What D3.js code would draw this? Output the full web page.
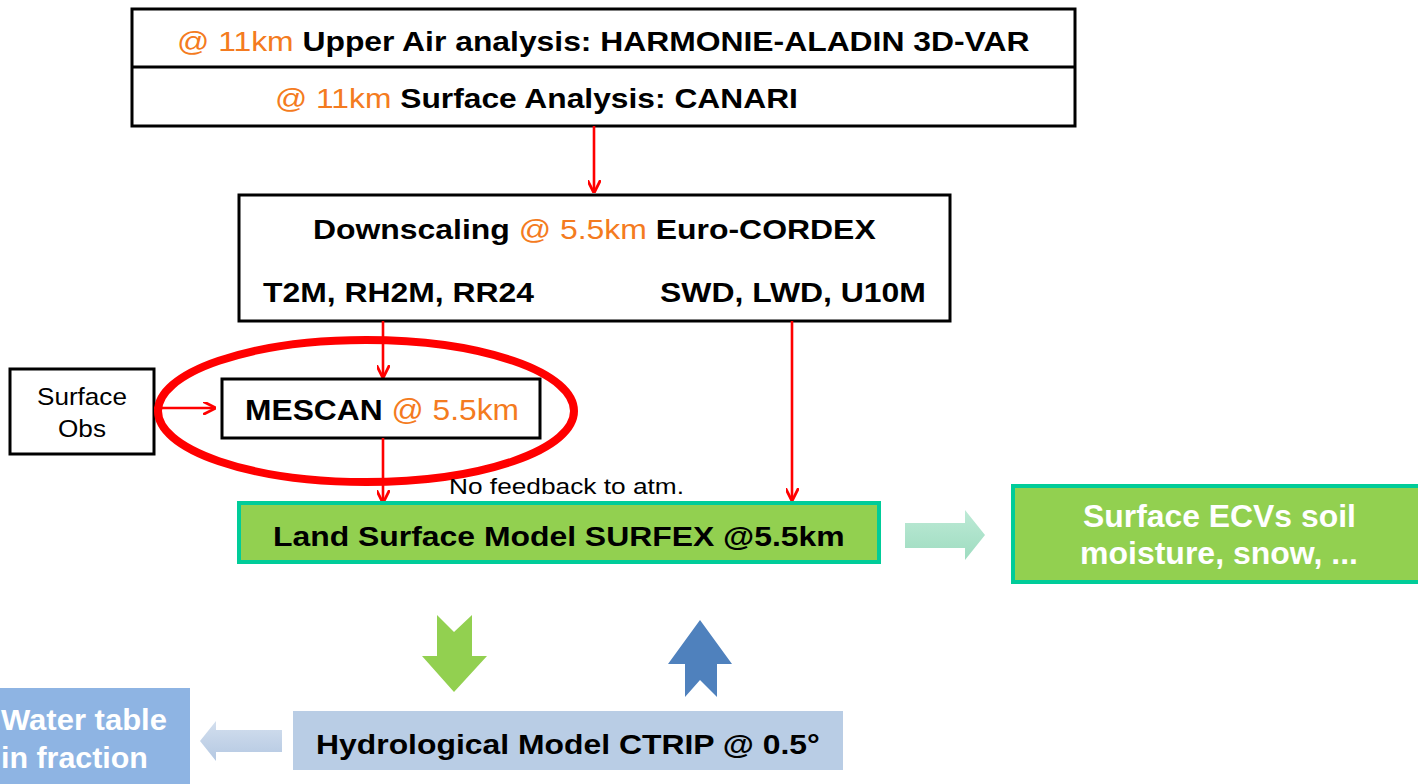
<!DOCTYPE html>
<html><head><meta charset="utf-8">
<script src="https://cdn.jsdelivr.net/npm/d3@7"></script>
<style>html,body{margin:0;padding:0;background:#fff;overflow:hidden}</style>
</head><body>
<svg id="c" width="1418" height="784"></svg>
<script>
// ---- content (text data) ----
const topLine1 = [["@ 11km ", "o"], ["Upper Air analysis: HARMONIE-ALADIN 3D-VAR", "b"]];
const topLine2 = [["@ 11km ", "o"], ["Surface Analysis: CANARI", "b"]];
const downTitle = [["Downscaling ", "b"], ["@ 5.5km ", "o"], ["Euro-CORDEX", "b"]];
const downVarsLeft = "T2M, RH2M, RR24";
const downVarsRight = "SWD, LWD, U10M";
const mescanLabel = [["MESCAN ", "b"], ["@ 5.5km", "o"]];
const obsLabel = ["Surface", "Obs"];
const feedbackNote = "No feedback to atm.";
const surfexLabel = "Land Surface Model SURFEX @5.5km";
const ecvLabel = ["Surface ECVs soil", "moisture, snow, ..."];
const hydroLabel = "Hydrological Model CTRIP @ 0.5°";
const waterLabel = ["Water table", "in fraction"];

// ---- drawing ----
const svg = d3.select("#c");
const FONT = "'Liberation Sans', Arial, Helvetica, sans-serif";
const ORANGE = "#F47B20", RED = "#FF0000", GREEN = "#92D050", TEAL = "#00CC99";

const defs = svg.append("defs");
defs.append("marker").attr("id","ah").attr("viewBox","0 0 12 12").attr("refX",11).attr("refY",6)
  .attr("markerWidth",13).attr("markerHeight",13).attr("markerUnits","userSpaceOnUse").attr("orient","auto")
  .append("path").attr("d","M0,0 L12,6 L0,12").attr("fill","none").attr("stroke",RED).attr("stroke-width",2.6);
const gT = defs.append("linearGradient").attr("id","gTeal").attr("x1",0).attr("y1",0).attr("x2",0).attr("y2",1);
gT.append("stop").attr("offset",0).attr("stop-color","#BDEAD6");
gT.append("stop").attr("offset",1).attr("stop-color","#9EDCC0");
const gB = defs.append("linearGradient").attr("id","gBlue").attr("x1",0).attr("y1",0).attr("x2",0).attr("y2",1);
gB.append("stop").attr("offset",0).attr("stop-color","#D3DFEE");
gB.append("stop").attr("offset",1).attr("stop-color","#B4C8E2");

// text spanning horizontally from x0 to x1 (stretched to fit), baseline y
function rich(x0, x1, y, segs, size, baseColor) {
  const g = svg.append("g");
  const t = g.append("text").attr("x", 0).attr("y", 0).attr("font-family", FONT)
    .attr("font-size", size);
  segs.forEach(([s, k]) => {
    t.append("tspan").text(s).attr("fill", k === "o" ? ORANGE : (baseColor || "#000"))
      .attr("font-weight", k === "o" || k === "r" ? "normal" : "bold");
  });
  const w = t.node().getComputedTextLength();
  g.attr("transform", `translate(${x0},${y}) scale(${(x1 - x0) / w},1)`);
  return t;
}
function box(x, y, w, h, fill, stroke, sw) {
  svg.append("rect").attr("x", x).attr("y", y).attr("width", w).attr("height", h)
    .attr("fill", fill).attr("stroke", stroke).attr("stroke-width", sw);
}
function redArrow(x1, y1, x2, y2) {
  svg.append("line").attr("x1", x1).attr("y1", y1).attr("x2", x2).attr("y2", y2)
    .attr("stroke", RED).attr("stroke-width", 2.6).attr("marker-end", "url(#ah)");
}

// Top analysis box
box(132, 9, 943, 117, "#fff", "#000", 3);
svg.append("line").attr("x1",132).attr("x2",1075).attr("y1",67).attr("y2",67).attr("stroke","#000").attr("stroke-width",3);
rich(177, 1030, 51, topLine1, 28);
rich(275, 798, 108, topLine2, 28);

redArrow(594, 126, 594, 192);

// Downscaling box
box(239, 195, 711, 126, "#fff", "#000", 3);
rich(313, 876, 239, downTitle, 28);
rich(263, 534, 302, [[downVarsLeft, "b"]], 28);
rich(660, 926, 302, [[downVarsRight, "b"]], 28);

// arrows from downscaling
redArrow(383, 321, 383, 377);
redArrow(792, 321, 792, 500);

// Surface obs
box(10, 369, 144, 85, "#fff", "#000", 3);
rich(37, 127, 405, [[obsLabel[0], "r"]], 24);
rich(58, 106, 437, [[obsLabel[1], "r"]], 24);
redArrow(154, 408, 215, 408);

// MESCAN
box(222, 379, 318, 59, "#fff", "#000", 3);
rich(245, 519, 420, mescanLabel, 29);
redArrow(383, 438, 383, 502);

// ellipse highlight
svg.append("ellipse").attr("cx", 366).attr("cy", 411).attr("rx", 208).attr("ry", 71)
  .attr("fill","none").attr("stroke", RED).attr("stroke-width", 8);

// feedback note
rich(449, 684, 494, [[feedbackNote, "r"]], 22);

// SURFEX
box(239, 503, 640, 59, GREEN, TEAL, 4);
rich(273, 845, 546, [[surfexLabel, "b"]], 28);

// teal arrow to ECVs
svg.append("path").attr("d","M905,523 L965,523 L965,510 L985,535 L965,560 L965,548 L905,548 Z").attr("fill","url(#gTeal)");

// ECV box
box(1013, 486, 410, 96, GREEN, TEAL, 4);
rich(1083, 1356, 527, [[ecvLabel[0], "b"]], 31, "#fff");
rich(1080, 1358, 564, [[ecvLabel[1], "b"]], 31, "#fff");

// green down arrow (notched tail)
svg.append("path").attr("d","M437,615 L454,632 L472,615 L472,656 L487,656 L454,692 L422,656 L437,656 Z").attr("fill", GREEN);
// blue up arrow (notched tail)
svg.append("path").attr("d","M700,620 L732,664 L717,664 L717,697 L700,680 L685,697 L685,664 L668,664 Z").attr("fill", "#4F81BD");

// Hydrological box
box(293, 711, 550, 59, "#B9CDE5", "none", 0);
rich(316, 820, 754, [[hydroLabel, "b"]], 28);

// left arrow
svg.append("path").attr("d","M282,730 L216,730 L216,721 L200,741 L216,761 L216,752 L282,752 Z").attr("fill","url(#gBlue)");

// water table box
box(-5, 688, 195, 100, "#8EB4E3", "none", 0);
rich(1, 167, 730, [[waterLabel[0], "b"]], 29, "#fff");
rich(1, 148, 768, [[waterLabel[1], "b"]], 29, "#fff");
</script>
</body></html>
